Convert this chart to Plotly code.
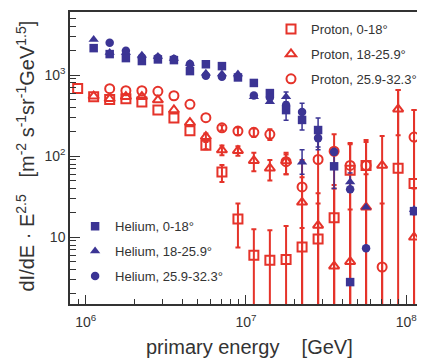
import plotly.graph_objects as go

# ---------------- data ----------------
energy = [8.9e5, 1.12e6, 1.41e6, 1.78e6, 2.24e6, 2.82e6, 3.55e6, 4.47e6, 5.62e6, 7.08e6,
          8.91e6, 1.12e7, 1.41e7, 1.78e7, 2.24e7, 2.82e7, 3.55e7, 4.47e7, 5.62e7, 7.08e7,
          8.91e7, 1.12e8]

# Protons (open red markers)
p_0_18 = [685, 541, 501, 510, 465, 371, 295, 206, 136, 64, 16.8, 6.0, 5.2, 5.3, 7.6, 9.5,
          17.4, 67, 77, None, 71, 46]
p_0_18_hi = [None, None, None, None, None, None, None, None, 150, 78, 26, 12.6, 12.2, 13.8, 13,
             26, 44, 145, 158, None, 653, 370]
p_0_18_lo = [None, None, None, None, None, None, None, None, 122, 48, 7.5, 1.0, 1.0, 1.0, 1.0,
             1.0, 1.0, 1.0, 1.0, None, 1.0, 1.0]

p_18_26 = [None, 550, 510, 541, 541, 492, 371, 259, 174, 119, 117, 88, 71, 87, 27, 14, 4.4,
           5.0, 23.5, 77, 380, 10]
p_18_26_hi = [None, None, None, None, None, None, None, None, 190, 135, 133, 110, 90, 105, 55,
              35, 40, 22, 60, 177, 653, 40]
p_18_26_lo = [None, None, None, None, None, None, None, None, 158, 103, 101, 65, 50, 60, 1.0,
              1.0, 1.0, 1.0, 1.0, 1.0, 181, 1.0]

p_26_32 = [None, None, 680, 641, 641, 630, 556, 436, 298, 224, 204, 197, 186, 85.5, 41.7, 91,
           115, 77, 77, 4.3, None, 172]
p_26_32_hi = [None, None, None, None, None, None, None, None, None, 240, 225, 220, 215, 110, 90,
              180, 186, 140, 150, 26, None, 370]
p_26_32_lo = [None, None, None, None, None, None, None, None, None, 208, 183, 172, 158, 60, 1.0,
              1.0, 1.0, 1.0, 1.0, 1.0, None, 1.0]

# Helium (filled blue markers)
he_0_18 = [None, 2150, 1815, 1620, 1490, 1560, 1530, 1120, 1360, 1290, 935, 800, 600, 370, 280,
           210, 75, 2.8, None, None, None, 21]
he_0_18_hi = [None, None, None, None, None, None, None, None, None, None, None, None, None, 430,
              330, 295, 120, None, None, None, None, None]
he_0_18_lo = [None, None, None, None, None, None, None, None, None, None, None, None, None, 277,
              210, 130, 40, None, None, None, None, None]

he_18_26 = [None, 2750, 1900, 1900, 1760, 1690, 1600, 1390, 1050, 1030, 1030, 540, 470, 540,
            84, None, None, 48, 23.5, None, None, 22]
he_18_26_hi = [None, None, None, None, None, None, None, None, None, None, None, None, None,
               620, 120, None, None, 62, None, None, None, None]
he_18_26_lo = [None, None, None, None, None, None, None, None, None, None, None, None, None,
               470, 60, None, None, 36, None, None, None, None]

he_26_32 = [None, None, 2500, 2000, 1650, 1640, 1580, 1370, 980, 955, 955, 560, 530, 426, 350,
            167, 113, 39, 7.3, None, None, 21]
he_26_32_hi = [None, None, None, None, None, None, None, None, None, None, None, None, None,
               None, 450, 230, None, None, None, None, None, None]
he_26_32_lo = [None, None, None, None, None, None, None, None, None, None, None, None, None,
               None, 280, 120, None, None, None, None, None, None]

x_tickvals = [1e6, 1e7, 1e8]
x_ticktext = ["10<sup>6</sup>", "10<sup>7</sup>", "10<sup>8</sup>"]
y_tickvals = [10, 100, 1000]
y_ticktext = ["10", "10<sup>2</sup>", "10<sup>3</sup>"]

x_title = "primary energy\u00a0\u00a0\u00a0\u00a0[GeV]"
y_title = ("dI/dE · E<sup>2.5</sup>\u00a0\u00a0\u00a0[m<sup>-2</sup> s<sup>-1</sup>"
           "sr<sup>-1</sup>GeV<sup>1.5</sup>]")

# ---------------- style ----------------
RED = "#e5332a"
BLUE = "#3b3494"
FONT = "Liberation Sans, Arial, Helvetica, sans-serif"

series = [
    ("Proton, 0-18°", p_0_18, p_0_18_hi, p_0_18_lo, "square-open", RED, 9, "legend"),
    ("Proton, 18-25.9°", p_18_26, p_18_26_hi, p_18_26_lo, "triangle-up-open", RED, 9, "legend"),
    ("Proton, 25.9-32.3°", p_26_32, p_26_32_hi, p_26_32_lo, "circle-open", RED, 9, "legend"),
    ("Helium, 0-18°", he_0_18, he_0_18_hi, he_0_18_lo, "square", BLUE, 8.5, "legend2"),
    ("Helium, 18-25.9°", he_18_26, he_18_26_hi, he_18_26_lo, "triangle-up", BLUE, 9, "legend2"),
    ("Helium, 25.9-32.3°", he_26_32, he_26_32_hi, he_26_32_lo, "circle", BLUE, 8.5, "legend2"),
]

fig = go.Figure()

# error bars first (drawn below markers)
for name, ys, hi, lo, sym, col, size, leg in series:
    ex, ey, eup, edn = [], [], [], []
    for x, y, h, l in zip(energy, ys, hi, lo):
        if y is None or h is None:
            continue
        ex.append(x)
        ey.append(y)
        eup.append(h - y)
        edn.append(y - l)
    fig.add_trace(go.Scatter(
        x=ex, y=ey, mode="markers", showlegend=False, hoverinfo="skip",
        marker=dict(size=1, opacity=0, color=col),
        error_y=dict(type="data", symmetric=False, array=eup, arrayminus=edn,
                     color=col, thickness=2 if col == RED else 1.5, width=2.5),
    ))

for name, ys, hi, lo, sym, col, size, leg in series:
    fig.add_trace(go.Scatter(
        x=energy, y=ys, mode="markers", name=name, legend=leg, legendgroup=name,
        marker=dict(symbol=sym, size=size, color=col,
                    line=dict(width=2 if col == RED else 0, color=col)),
    ))

axis_common = dict(
    showline=True, linecolor="#333", linewidth=1.5, showgrid=False, zeroline=False,
    ticks="inside", tickcolor="#333", tickwidth=1, automargin=False,
    tickfont=dict(size=14, color="#333", family=FONT),
)

x_minor = [m * 10 ** e for e in (5, 6, 7) for m in range(2, 10)]
y_minor = [m * 10 ** e for e in (0, 1, 2, 3) for m in range(2, 10)]

fig.update_xaxes(
    type="log", range=[5.9015, 8.0677], mirror=True, ticklen=9,
    tickvals=x_tickvals, ticktext=x_ticktext, ticklabelstandoff=4,
    minor=dict(ticks="inside", ticklen=5, tickcolor="#333", tickvals=x_minor),
    **axis_common,
)
fig.update_yaxes(
    type="log", range=[0.177, 3.778], ticklen=10,
    tickvals=y_tickvals, ticktext=y_ticktext,
    minor=dict(ticks="inside", ticklen=6, tickcolor="#333", tickvals=y_minor),
    **axis_common,
)

fig.add_annotation(text=x_title, xref="paper", yref="paper", x=0.517, y=-0.147,
                   xanchor="center", yanchor="middle", showarrow=False,
                   font=dict(size=20, color="#333", family=FONT))
fig.add_annotation(text=y_title, xref="paper", yref="paper", x=-0.128, y=0.507,
                   xanchor="center", yanchor="middle", showarrow=False, textangle=-90,
                   font=dict(size=20, color="#333", family=FONT))

fig.update_layout(
    width=422, height=358,
    margin=dict(l=70, r=0, t=12, b=54),
    plot_bgcolor="white", paper_bgcolor="white",
    font=dict(family=FONT, size=13, color="#333"),
    showlegend=True,
    legend=dict(x=0.58, y=0.993, xanchor="left", yanchor="top", bgcolor="rgba(0,0,0,0)",
                font=dict(size=13, color="#333", family=FONT), tracegroupgap=5),
    legend2=dict(x=0.0147, y=0.0436, xanchor="left", yanchor="bottom", bgcolor="rgba(0,0,0,0)",
                 font=dict(size=13, color="#333", family=FONT), tracegroupgap=5),
)

fig.write_html("out.html",
               config={"displayModeBar": False},
               post_script="document.body.style.margin='0';"
                           "document.body.style.overflow='hidden';")
